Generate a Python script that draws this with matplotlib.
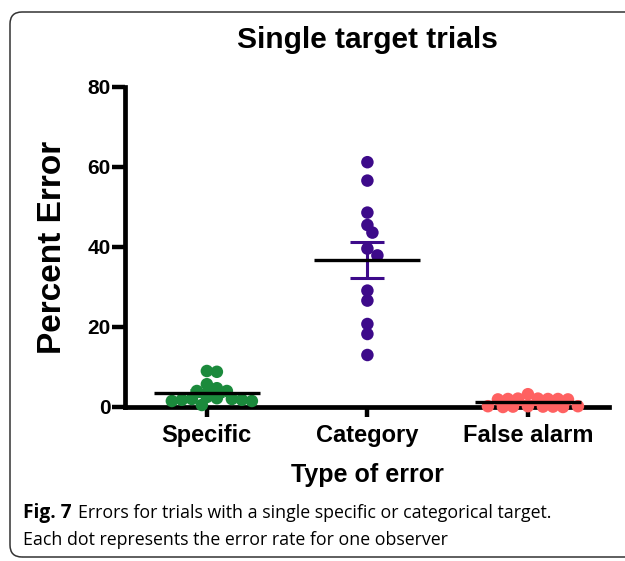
import numpy as np
import matplotlib
matplotlib.use("Agg")
import matplotlib.pyplot as plt
from matplotlib.patches import FancyBboxPatch
from matplotlib.transforms import IdentityTransform

# values (percent error per observer)
categories = ["Specific", "Category", "False alarm"]
specific = [9.0, 8.8, 5.7, 4.7, 4.0, 4.0, 2.5, 2.0, 1.8, 1.5, 0.5, 1.5, 1.8, 2.0, 2.2]
category = [61.2, 56.6, 48.6, 45.5, 43.6, 39.6, 37.9, 29.1, 26.6, 20.75, 18.25, 13.0]
false_alarm = [3.2, 2.1, 2.0, 1.9, 2.0, 1.9, 2.1, 2.0, 0.2, 0.1, 0.2, 0.0, 0.1, 0.2, 0.0, 0.1]
groups = [specific, category, false_alarm]
colors = ["#1b8a3c", "#3d0a8a", "#ff6161"]
yticks = [0, 20, 40, 60, 80]

W, H = 625, 561
plt.rcParams["font.family"] = ["Liberation Sans", "DejaVu Sans"]

fig = plt.figure(figsize=(W / 100, H / 100), dpi=100)
ax = fig.add_axes([125 / W, 1 - 407 / H, (609 - 125) / W, (407 - 87) / H])
ax.set_xlim(-0.51, 2.505)
ax.set_ylim(0, 80)

# px per data unit, used for the swarm layout
px_x = 160.5
px_y = 4.0
diam = 12.5


def swarm(vals, min_dist=0.72):
    """simple beeswarm: push points sideways until they don't overlap too much"""
    placed = []
    offs = np.zeros(len(vals))
    order = np.argsort(vals)[::-1]
    step = diam * 0.4
    for i in order:
        y = vals[i] * px_y
        for k in range(60):
            cand = 0.0 if k == 0 else ((k + 1) // 2) * step * (1 if k % 2 else -1)
            ok = all((cand - px) ** 2 + (y - py) ** 2 >= (diam * min_dist) ** 2
                     for px, py in placed)
            if ok:
                break
        placed.append((cand, y))
        offs[i] = cand / px_x
    return offs


for i, vals in enumerate(groups):
    vals = np.array(vals)
    offs = swarm(vals)
    ax.scatter(i + offs, vals, s=(diam * 0.72) ** 2, color=colors[i],
               edgecolors="none", zorder=3, clip_on=False)
    m = vals.mean()
    sem = vals.std(ddof=1) / np.sqrt(len(vals))
    ax.errorbar(i, m, yerr=sem, color=colors[i], lw=2.2, capsize=12.5,
                capthick=2.2, zorder=4, clip_on=False)
    ax.plot([i - 0.33, i + 0.33], [m, m], color="black", lw=2.4, zorder=5,
            solid_capstyle="butt", clip_on=False)

for s in ["top", "right"]:
    ax.spines[s].set_visible(False)
for s in ["left", "bottom"]:
    ax.spines[s].set_linewidth(3.4)
ax.spines["left"].set_bounds(0, 80)

ax.set_xticks(range(len(categories)))
ax.set_xticklabels(categories, fontsize=17, fontweight="bold")
ax.set_yticks(yticks)
ax.set_yticklabels([str(v) for v in yticks], fontsize=15, fontweight="bold")
ax.tick_params(axis="both", width=3.2, direction="out")
ax.tick_params(axis="x", length=7.5, pad=5)
ax.tick_params(axis="y", length=9.5, pad=1)

ax.set_ylabel("Percent Error", fontsize=24, fontweight="bold", labelpad=14)
ax.set_xlabel("Type of error", fontsize=18, fontweight="bold", labelpad=11)
fig.text(367 / W, 1 - 40 / H, "Single target trials", fontsize=21.5,
         fontweight="bold", ha="center", va="center")

# caption: bold label followed by plain text on the same line
cap_font = ["Open Sans", "DejaVu Sans"]
cap_size = 12.8
lab = fig.text(23, H - 513, "Fig. 7", fontsize=13.8, fontweight="bold",
               family=cap_font, va="center", transform=IdentityTransform())
fig.canvas.draw()
bb = lab.get_window_extent()
fig.text(bb.x1 + 6, H - 513, "Errors for trials with a single specific or categorical target.",
         fontsize=cap_size, family=cap_font, va="center", transform=IdentityTransform())
fig.text(23, H - 540, "Each dot represents the error rate for one observer",
         fontsize=cap_size, family=cap_font, va="center", transform=IdentityTransform())

# rounded frame around the panel
frame = FancyBboxPatch((10, 4), 640, H - 16, boxstyle="round,pad=0,rounding_size=12",
                       transform=IdentityTransform(), fill=False, lw=1.1,
                       edgecolor="#333333", clip_on=False)
fig.patches.append(frame)

fig.savefig("out.png", dpi=100)
